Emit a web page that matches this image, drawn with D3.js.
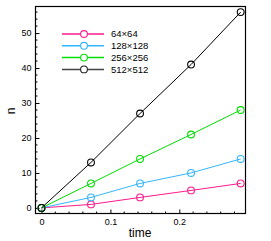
<!DOCTYPE html>
<html>
<head>
<meta charset="utf-8">
<script src="https://cdn.jsdelivr.net/npm/d3@7"></script>
<style>
  body { margin: 0; background: #fff; }
  text { font-family: "Liberation Sans", Arial, sans-serif; }
</style>
</head>
<body>
<div id="chart"></div>
<script>
// data
var times = [0, 0.0718, 0.143, 0.217, 0.289];
var grids = ["64\u00d764", "128\u00d7128", "256\u00d7256", "512\u00d7512"];
var n64 = [0, 1, 3, 5, 7];
var n128 = [0, 3, 7, 10, 14];
var n256 = [0, 7, 14, 21, 28];
var n512 = [0, 13, 27, 41, 56];
var colors = ["#ff1a8c", "#33b5ff", "#00dd00", "#000000"];
var xTicks = [0, 0.1, 0.2];
var yTicks = [0, 10, 20, 30, 40, 50];

var series = [n64, n128, n256, n512];

var W = 271, H = 241;
var pL = 35.5, pR = 245.5, pT = 6.5, pB = 213.5;

var svg = d3.select("#chart").append("svg")
    .attr("width", W)
    .attr("height", H);

var x = d3.scaleLinear().domain([-0.0087, 0.296]).range([pL, pR]);
var y = d3.scaleLinear().domain([-1.6, 57.6]).range([pB, pT]);

// minor ticks
var xMinor = d3.range(0, 0.2901, 0.02).filter(v => Math.abs(v*10 - Math.round(v*10)) > 1e-6);
var yMinor = d3.range(0, 57, 2).filter(v => v % 10 != 0);

// bottom axis, ticks pointing inward
var gx = svg.append("g")
    .attr("transform", `translate(0,${pB})`);
gx.call(d3.axisBottom(x).tickValues(xTicks).tickSize(-4).tickPadding(5).tickFormat(d3.format("")))
gx.select(".domain").remove();
gx.selectAll("text").style("font-size", "9px").attr("fill", "#000");
gx.selectAll("line").attr("stroke", "#000");
gx.selectAll(".minor").data(xMinor).join("line")
    .attr("class", "minor")
    .attr("x1", d => x(d)).attr("x2", d => x(d))
    .attr("y1", 0).attr("y2", -2)
    .attr("stroke", "#000");

// left axis
var gy = svg.append("g")
    .attr("transform", `translate(${pL},0)`);
gy.call(d3.axisLeft(y).tickValues(yTicks).tickSize(-4).tickPadding(4))
gy.select(".domain").remove();
gy.selectAll("text").style("font-size", "9px").attr("fill", "#000");
gy.selectAll("line").attr("stroke", "#000");
gy.selectAll(".minor").data(yMinor).join("line")
    .attr("class", "minor")
    .attr("x1", 0).attr("x2", 2)
    .attr("y1", d => y(d)).attr("y2", d => y(d))
    .attr("stroke", "#000");

// frame
svg.append("rect")
    .attr("x", pL).attr("y", pT)
    .attr("width", pR - pL).attr("height", pB - pT)
    .attr("fill", "none")
    .attr("stroke", "#000")
    .attr("stroke-width", 1.2);

// lines + markers
var line = d3.line().x((d, i) => x(times[i])).y(d => y(d));
series.forEach(function(s, k) {
  svg.append("path")
    .datum(s)
    .attr("d", line)
    .attr("fill", "none")
    .attr("stroke", colors[k])
    .attr("stroke-width", 1);
  svg.selectAll(".pt" + k).data(s).join("circle")
    .attr("class", "pt" + k)
    .attr("cx", (d, i) => x(times[i]))
    .attr("cy", d => y(d))
    .attr("r", 3.4)
    .attr("fill", "none")
    .attr("stroke", colors[k])
    .attr("stroke-width", 1.1);
});

// legend
var leg = svg.append("g");
grids.forEach(function(g, k) {
  var ly = 34 + k * 11.8;
  leg.append("line")
    .attr("x1", 62).attr("x2", 104)
    .attr("y1", ly).attr("y2", ly)
    .attr("stroke", k == 3 ? "#444" : colors[k])
    .attr("stroke-width", 1.5);
  leg.append("circle")
    .attr("cx", 84).attr("cy", ly).attr("r", 3.4)
    .attr("fill", "#fff")
    .attr("stroke", k == 3 ? "#222" : colors[k])
    .attr("stroke-width", 1.1);
  leg.append("text")
    .attr("x", 111).attr("y", ly + 3.4)
    .style("font-size", "9.5px")
    .text(g);
});

// axis titles
svg.append("text")
  .attr("x", 140).attr("y", 237)
  .attr("text-anchor", "middle")
  .style("font-size", "12px")
  .text("time");
svg.append("text")
  .attr("transform", "translate(15,111) rotate(-90)")
  .attr("text-anchor", "middle")
  .style("font-size", "12px")
  .text("n");
</script>
</body>
</html>
